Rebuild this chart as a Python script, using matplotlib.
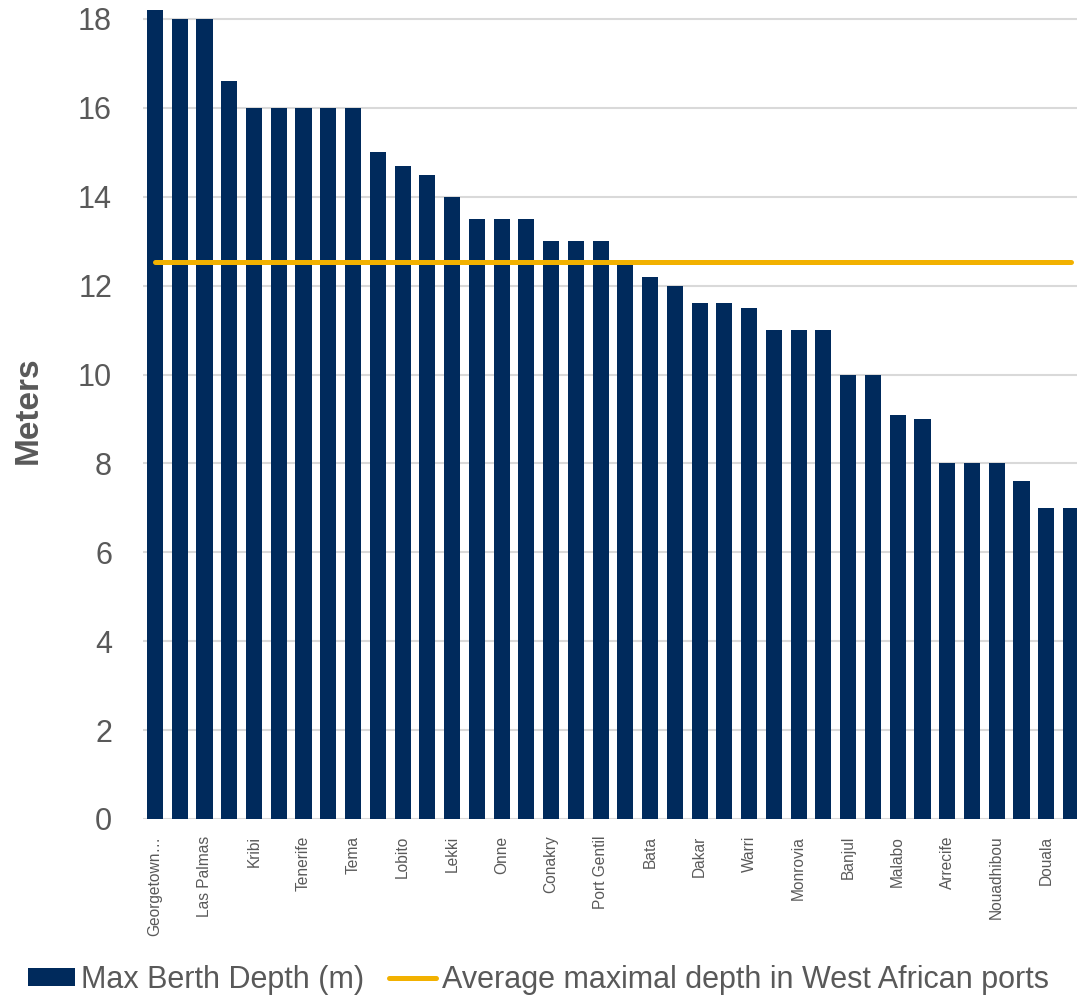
import matplotlib
matplotlib.use("Agg")
import matplotlib.pyplot as plt
import numpy as np

# every other port is labelled on the original axis
ports = ["Georgetown…", "", "Las Palmas", "", "Kribi", "", "Tenerife", "", "Tema", "",
         "Lobito", "", "Lekki", "", "Onne", "", "Conakry", "", "Port Gentil", "",
         "Bata", "", "Dakar", "", "Warri", "", "Monrovia", "", "Banjul", "",
         "Malabo", "", "Arrecife", "", "Nouadhibou", "", "Douala", ""]
depth = [18.2, 18, 18, 16.6, 16, 16, 16, 16, 16, 15,
         14.7, 14.5, 14, 13.5, 13.5, 13.5, 13, 13, 13, 12.5,
         12.2, 12, 11.6, 11.6, 11.5, 11, 11, 11, 10, 10,
         9.1, 9, 8, 8, 8, 7.6, 7, 7]
avg_depth = 12.53
yticks = list(range(0, 19, 2))

navy = "#002A5C"
gold = "#F2B100"
grey = "#595959"

plt.rcParams["font.family"] = ["Liberation Sans Narrow", "Liberation Sans", "DejaVu Sans"]

W, H = 1077, 999
fig = plt.figure(figsize=(W / 100, H / 100), dpi=100)
# axes in pixel terms: x from 142.6 to 1083.4, y from 819 (zero) upward
ax = fig.add_axes([142.6 / W, 1 - 819 / H, (1083.4 - 142.6) / W, 817.8 / H])

x = np.arange(len(depth))
bars = ax.bar(x, depth, width=0.65, color=navy, label="Max Berth Depth (m)", zorder=2)
line, = ax.plot(x, [avg_depth] * len(x), color=gold, lw=3.6, solid_capstyle="round",
                label="Average maximal depth in West African ports", zorder=3)

ax.set_xlim(-0.5, len(depth) - 0.5)
ax.set_ylim(0, 18.4)
ax.set_yticks(yticks)
ax.set_xticks(x)
ax.set_xticklabels(ports, rotation=90, fontsize=11.2, color=grey, va="top")
ax.tick_params(axis="y", length=0, pad=22, labelsize=22, labelcolor=grey)
ax.tick_params(axis="x", length=0, pad=12)
ax.grid(axis="y", color="#D9D9D9", lw=1.5, zorder=0)
for s in ax.spines.values():
    s.set_visible(False)

fig.text(28 / W, 1 - 410 / H, "Meters", rotation=90, fontsize=24, fontweight="bold",
         color=grey, ha="center", va="center")

fig.legend([bars, line], [bars.get_label(), line.get_label()],
           loc="center", bbox_to_anchor=(0.5, 1 - 980 / H), ncol=2, frameon=False,
           fontsize=22, labelcolor=grey, handlelength=1.55, handletextpad=0.2,
           columnspacing=0.8, handleheight=0.55)

fig.savefig("out.png", dpi=100)
